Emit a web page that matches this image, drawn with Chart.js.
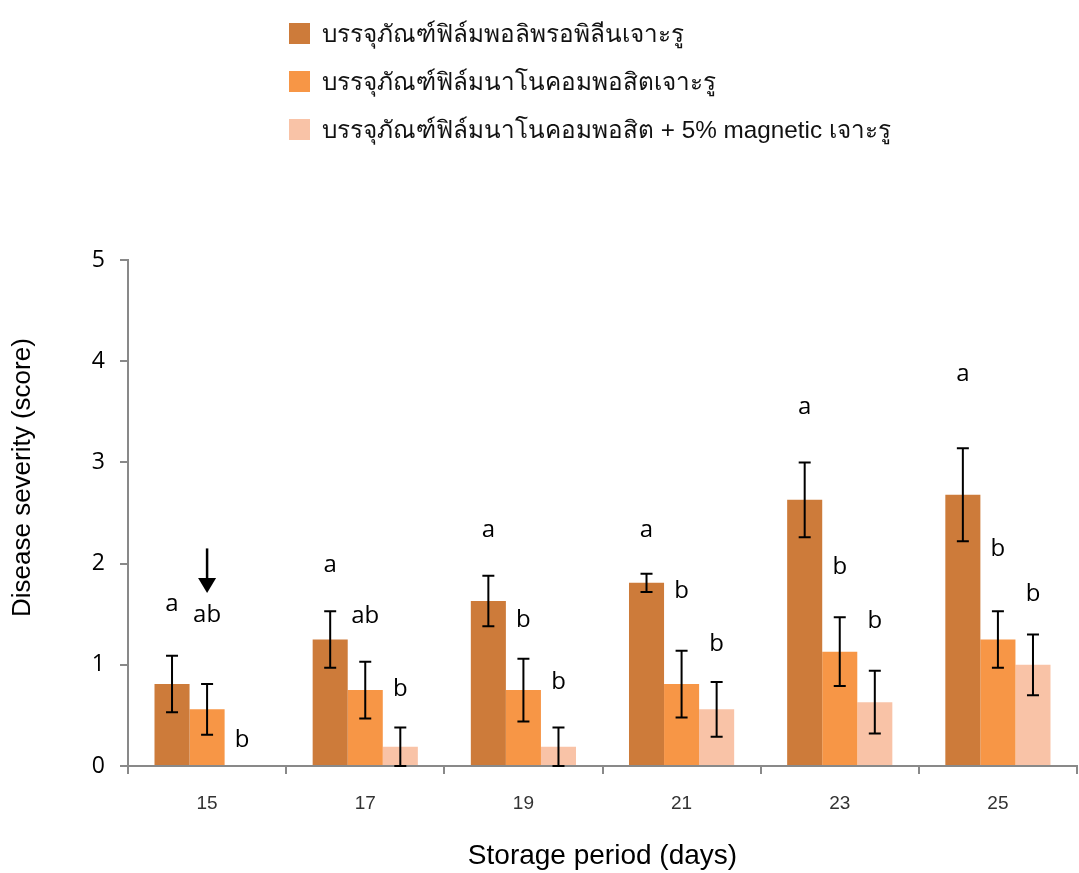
<!DOCTYPE html>
<html>
<head>
<meta charset="utf-8">
<script src="https://cdn.jsdelivr.net/npm/chart.js@4.4.1/dist/chart.umd.min.js"></script>
<style>
  html, body { margin: 0; padding: 0; background: #fff; }
  #wrap { position: relative; width: 1079px; height: 873px; }
  #legend { position: absolute; left: 289px; top: 9px; font-family: "Liberation Sans", "DejaVu Sans", sans-serif; font-size: 24.3px; color: #111; }
  .li { display: flex; align-items: center; height: 48px; }
  .sw { width: 21px; height: 21px; margin-right: 12px; flex: none; }
</style>
</head>
<body>
<div id="wrap">
  <canvas id="c" width="1079" height="873"></canvas>
  <div id="legend"></div>
</div>
<script>
const categories = ['15', '17', '19', '21', '23', '25'];
const seriesNames = [
  'บรรจุภัณฑ์ฟิล์มพอลิพรอพิลีนเจาะรู',
  'บรรจุภัณฑ์ฟิล์มนาโนคอมพอสิตเจาะรู',
  'บรรจุภัณฑ์ฟิล์มนาโนคอมพอสิต + 5% magnetic เจาะรู'
];
const ppValues   = [0.81, 1.25, 1.63, 1.81, 2.63, 2.68];
const ppErr      = [0.28, 0.28, 0.25, 0.09, 0.37, 0.46];
const nanoValues = [0.56, 0.75, 0.75, 0.81, 1.13, 1.25];
const nanoErr    = [0.25, 0.28, 0.31, 0.33, 0.34, 0.28];
const magValues  = [0.00, 0.19, 0.19, 0.56, 0.63, 1.00];
const magErr     = [0.00, 0.19, 0.19, 0.27, 0.31, 0.30];
const ppLetters   = ['a', 'a', 'a', 'a', 'a', 'a'];
const nanoLetters = ['ab', 'ab', 'b', 'b', 'b', 'b'];
const magLetters  = ['b', 'b', 'b', 'b', 'b', 'b'];
const ppLetterY   = [1.60, 1.98, 2.33, 2.33, 3.55, 3.87];
const nanoLetterY = [1.49, 1.48, 1.44, 1.73, 1.96, 2.14];
const magLetterY  = [0.26, 0.76, 0.83, 1.20, 1.43, 1.70];
const yTicks = [0, 1, 2, 3, 4, 5];
const yTitle = 'Disease severity (score)';
const xTitle = 'Storage period (days)';
const arrowCategory = '15';
const arrowFrom = 2.15, arrowTo = 1.71;

const colors = ['#CD7B3A', '#F79646', '#F9C3A7'];
const errs = [ppErr, nanoErr, magErr];
const letters = [ppLetters, nanoLetters, magLetters];
const letterY = [ppLetterY, nanoLetterY, magLetterY];

const extras = {
  id: 'extras',
  afterDatasetsDraw(chart) {
    const ctx = chart.ctx;
    const ys = chart.scales.y, xs = chart.scales.x;
    ctx.save();
    chart.data.datasets.forEach((ds, i) => {
      const meta = chart.getDatasetMeta(i);
      meta.data.forEach((el, j) => {
        const v = ds.data[j], e = errs[i][j];
        if (e > 0) {
          const yt = ys.getPixelForValue(v + e);
          const yb = ys.getPixelForValue(Math.max(v - e, 0));
          ctx.strokeStyle = '#000';
          ctx.lineWidth = 2;
          ctx.beginPath();
          ctx.moveTo(el.x, yt); ctx.lineTo(el.x, yb);
          ctx.moveTo(el.x - 6, yt); ctx.lineTo(el.x + 6, yt);
          ctx.moveTo(el.x - 6, yb); ctx.lineTo(el.x + 6, yb);
          ctx.stroke();
        }
        ctx.fillStyle = '#000';
        ctx.font = '24px "Open Sans", sans-serif';
        ctx.textAlign = 'center';
        ctx.textBaseline = 'middle';
        ctx.fillText(letters[i][j], el.x, ys.getPixelForValue(letterY[i][j]));
      });
    });
    // arrow
    const ax = xs.getPixelForValue(categories.indexOf(arrowCategory));
    const a0 = ys.getPixelForValue(arrowFrom), a1 = ys.getPixelForValue(arrowTo);
    ctx.strokeStyle = '#000'; ctx.lineWidth = 2.5;
    ctx.beginPath(); ctx.moveTo(ax, a0); ctx.lineTo(ax, a1 - 12); ctx.stroke();
    ctx.fillStyle = '#000';
    ctx.beginPath(); ctx.moveTo(ax - 9, a1 - 15); ctx.lineTo(ax + 9, a1 - 15); ctx.lineTo(ax, a1); ctx.closePath(); ctx.fill();
    // y title
    const ca = chart.chartArea;
    ctx.save();
    ctx.translate(23, ca.top + 0.43 * (ca.bottom - ca.top));
    ctx.rotate(-Math.PI / 2);
    ctx.font = '26px "Liberation Sans", Arial, sans-serif';
    ctx.fillStyle = '#000';
    ctx.textAlign = 'center'; ctx.textBaseline = 'middle';
    ctx.fillText(yTitle, 0, 0);
    ctx.restore();
    ctx.restore();
  }
};

new Chart(document.getElementById('c'), {
  type: 'bar',
  data: {
    labels: categories,
    datasets: [
      { label: seriesNames[0], data: ppValues, backgroundColor: colors[0] },
      { label: seriesNames[1], data: nanoValues, backgroundColor: colors[1] },
      { label: seriesNames[2], data: magValues, backgroundColor: colors[2] }
    ]
  },
  options: {
    responsive: false,
    animation: false,
    layout: { padding: { top: 260, right: 2, left: 0, bottom: 0 } },
    datasets: { bar: { categoryPercentage: 0.665, barPercentage: 1.0, borderWidth: 0 } },
    plugins: { legend: { display: false }, tooltip: { enabled: false } },
    scales: {
      x: {
        grid: { offset: true, drawOnChartArea: false, drawTicks: true, tickLength: 8, color: '#898989', lineWidth: 2 },
        border: { display: true, color: '#898989', width: 2 },
        ticks: { color: '#333', font: { family: '"Liberation Sans Narrow", "Liberation Sans", sans-serif', size: 19 }, padding: 18 },
        title: { display: true, text: xTitle, color: '#000', font: { family: '"Liberation Sans", sans-serif', size: 28 }, padding: { top: 20, bottom: 0 } },
        afterFit(s) { s.height = 107; }
      },
      y: {
        min: 0, max: 5,
        afterBuildTicks(s) { s.ticks = yTicks.map(v => ({ value: v })); },
        grid: { drawOnChartArea: false, drawTicks: true, tickLength: 8, color: '#898989', lineWidth: 2 },
        border: { display: true, color: '#898989', width: 2 },
        ticks: { color: '#000', font: { family: '"Open Sans", sans-serif', size: 23 }, padding: 15 },
        title: { display: false },
        afterFit(s) { s.width = 128; }
      }
    }
  },
  plugins: [extras]
});

const leg = document.getElementById('legend');
seriesNames.forEach((n, i) => {
  const d = document.createElement('div'); d.className = 'li';
  const s = document.createElement('span'); s.className = 'sw'; s.style.background = colors[i];
  const t = document.createElement('span'); t.textContent = n;
  d.appendChild(s); d.appendChild(t); leg.appendChild(d);
});
</script>
</body>
</html>
